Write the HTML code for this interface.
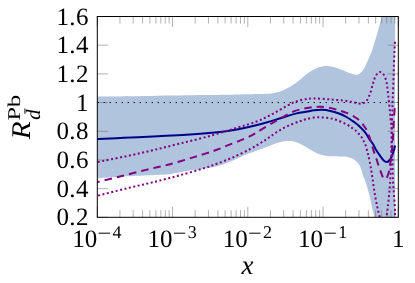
<!DOCTYPE html>
<html><head><meta charset="utf-8"><style>
html,body{margin:0;padding:0;background:#fff}
svg{display:block;will-change:transform;transform:translateZ(0)}
text{text-rendering:geometricPrecision}
.t{font-family:"Liberation Serif",serif;font-size:25px;fill:#000}
.s{font-family:"Liberation Serif",serif;font-size:18px;fill:#000}
.tk{stroke:#707070;stroke-width:0.55;fill:none}
.c{fill:none;stroke-width:2}
</style></head><body>
<svg width="415" height="283" viewBox="0 0 415 283">
<defs><clipPath id="cp"><rect x="97.3" y="16.5" width="301.0" height="200.8"/></clipPath></defs>
<rect width="415" height="283" fill="#fff"/>
<g clip-path="url(#cp)">
<path d="M97.30,96.60 C106.08,96.48 131.88,96.15 150.00,95.90 C168.12,95.65 191.00,95.33 206.00,95.10 C221.00,94.87 229.67,94.72 240.00,94.50 C250.33,94.28 262.22,94.08 268.00,93.80 C273.78,93.52 272.45,93.25 274.70,92.80 C276.95,92.35 279.25,91.95 281.50,91.10 C283.75,90.25 285.95,88.95 288.20,87.70 C290.45,86.45 292.75,85.18 295.00,83.60 C297.25,82.02 299.45,80.00 301.70,78.20 C303.95,76.40 306.25,74.37 308.50,72.80 C310.75,71.23 313.28,69.78 315.20,68.80 C317.12,67.82 318.08,67.38 320.00,66.90 C321.92,66.42 324.45,65.90 326.70,65.90 C328.95,65.90 331.25,66.35 333.50,66.90 C335.75,67.45 337.95,68.37 340.20,69.20 C342.45,70.03 344.75,71.05 347.00,71.90 C349.25,72.75 352.02,73.83 353.70,74.30 C355.38,74.77 355.97,74.93 357.10,74.70 C358.23,74.47 359.37,73.87 360.50,72.90 C361.63,71.93 362.78,70.70 363.90,68.90 C365.02,67.10 366.20,64.35 367.20,62.10 C368.20,59.85 369.17,57.08 369.90,55.40 C370.63,53.72 370.42,55.53 371.60,52.00 C372.78,48.47 375.53,39.18 377.00,34.20 C378.47,29.22 379.62,25.02 380.40,22.10 C381.18,19.18 381.10,19.05 381.70,16.70 C382.30,14.35 383.62,9.45 384.00,8.00 L395.10,5 L395.10,226 L376,226 L376.00,226.00 C375.72,224.50 374.97,220.17 374.30,217.00 C373.63,213.83 372.88,210.92 372.00,207.00 C371.12,203.08 370.18,198.00 369.00,193.50 C367.82,189.00 365.82,182.75 364.90,180.00 C363.98,177.25 364.32,179.33 363.50,177.00 C362.68,174.67 361.03,168.43 360.00,166.00 C358.97,163.57 358.43,163.57 357.30,162.40 C356.17,161.23 354.55,159.83 353.20,159.00 C351.85,158.17 350.77,157.80 349.20,157.40 C347.63,157.00 346.05,156.78 343.80,156.60 C341.55,156.42 338.40,156.42 335.70,156.30 C333.00,156.18 329.85,156.12 327.60,155.90 C325.35,155.68 324.00,155.43 322.20,155.00 C320.40,154.57 318.60,154.08 316.80,153.30 C315.00,152.52 313.20,151.37 311.40,150.30 C309.60,149.23 307.82,147.97 306.00,146.90 C304.18,145.83 302.53,144.80 300.50,143.90 C298.47,143.00 295.82,142.00 293.80,141.50 C291.78,141.00 290.20,140.90 288.40,140.90 C286.60,140.90 285.03,141.10 283.00,141.50 C280.97,141.90 278.45,142.57 276.20,143.30 C273.95,144.03 271.75,145.05 269.50,145.90 C267.25,146.75 266.08,147.17 262.70,148.40 C259.32,149.63 253.25,151.70 249.20,153.30 C245.15,154.90 242.00,156.43 238.40,158.00 C234.80,159.57 231.20,161.33 227.60,162.70 C224.00,164.07 220.40,165.23 216.80,166.20 C213.20,167.17 209.48,167.92 206.00,168.50 C202.52,169.08 199.07,169.28 195.90,169.70 C192.73,170.12 190.98,170.33 187.00,171.00 C183.02,171.67 176.50,173.07 172.00,173.70 C167.50,174.33 164.83,174.48 160.00,174.80 C155.17,175.12 150.33,175.23 143.00,175.60 C135.67,175.97 123.62,176.57 116.00,177.00 C108.38,177.43 100.42,178.00 97.30,178.20 Z" fill="#b0c4de"/>
</g>
<path d="M97.30,217.30v-10.7M97.30,16.50v10.7" class="tk"/><path d="M119.95,217.30v-7.1M119.95,16.50v7.1" class="tk"/><path d="M133.20,217.30v-7.1M133.20,16.50v7.1" class="tk"/><path d="M142.61,217.30v-7.1M142.61,16.50v7.1" class="tk"/><path d="M149.90,217.30v-7.1M149.90,16.50v7.1" class="tk"/><path d="M155.86,217.30v-7.1M155.86,16.50v7.1" class="tk"/><path d="M160.89,217.30v-7.1M160.89,16.50v7.1" class="tk"/><path d="M165.26,217.30v-7.1M165.26,16.50v7.1" class="tk"/><path d="M169.11,217.30v-7.1M169.11,16.50v7.1" class="tk"/><path d="M172.55,217.30v-10.7M172.55,16.50v10.7" class="tk"/><path d="M195.20,217.30v-7.1M195.20,16.50v7.1" class="tk"/><path d="M208.45,217.30v-7.1M208.45,16.50v7.1" class="tk"/><path d="M217.86,217.30v-7.1M217.86,16.50v7.1" class="tk"/><path d="M225.15,217.30v-7.1M225.15,16.50v7.1" class="tk"/><path d="M231.11,217.30v-7.1M231.11,16.50v7.1" class="tk"/><path d="M236.14,217.30v-7.1M236.14,16.50v7.1" class="tk"/><path d="M240.51,217.30v-7.1M240.51,16.50v7.1" class="tk"/><path d="M244.36,217.30v-7.1M244.36,16.50v7.1" class="tk"/><path d="M247.80,217.30v-10.7M247.80,16.50v10.7" class="tk"/><path d="M270.45,217.30v-7.1M270.45,16.50v7.1" class="tk"/><path d="M283.70,217.30v-7.1M283.70,16.50v7.1" class="tk"/><path d="M293.11,217.30v-7.1M293.11,16.50v7.1" class="tk"/><path d="M300.40,217.30v-7.1M300.40,16.50v7.1" class="tk"/><path d="M306.36,217.30v-7.1M306.36,16.50v7.1" class="tk"/><path d="M311.39,217.30v-7.1M311.39,16.50v7.1" class="tk"/><path d="M315.76,217.30v-7.1M315.76,16.50v7.1" class="tk"/><path d="M319.61,217.30v-7.1M319.61,16.50v7.1" class="tk"/><path d="M323.05,217.30v-10.7M323.05,16.50v10.7" class="tk"/><path d="M345.70,217.30v-7.1M345.70,16.50v7.1" class="tk"/><path d="M358.95,217.30v-7.1M358.95,16.50v7.1" class="tk"/><path d="M368.36,217.30v-7.1M368.36,16.50v7.1" class="tk"/><path d="M375.65,217.30v-7.1M375.65,16.50v7.1" class="tk"/><path d="M381.61,217.30v-7.1M381.61,16.50v7.1" class="tk"/><path d="M386.64,217.30v-7.1M386.64,16.50v7.1" class="tk"/><path d="M391.01,217.30v-7.1M391.01,16.50v7.1" class="tk"/><path d="M394.86,217.30v-7.1M394.86,16.50v7.1" class="tk"/><path d="M398.30,217.30v-10.7M398.30,16.50v10.7" class="tk"/><path d="M97.30,16.50h10.7M398.30,16.50h-10.7" class="tk"/><path d="M97.30,45.19h10.7M398.30,45.19h-10.7" class="tk"/><path d="M97.30,73.87h10.7M398.30,73.87h-10.7" class="tk"/><path d="M97.30,102.56h10.7M398.30,102.56h-10.7" class="tk"/><path d="M97.30,131.24h10.7M398.30,131.24h-10.7" class="tk"/><path d="M97.30,159.93h10.7M398.30,159.93h-10.7" class="tk"/><path d="M97.30,188.61h10.7M398.30,188.61h-10.7" class="tk"/><path d="M97.30,217.30h10.7M398.30,217.30h-10.7" class="tk"/>
<g clip-path="url(#cp)">
<path d="M97.3,102.56H398.3" stroke="#000" stroke-width="1" stroke-dasharray="1.3 4.7" stroke-dashoffset="-0.35" fill="none"/>
<path d="M92.00,139.10 C93.05,139.07 92.97,139.12 98.30,138.90 C103.63,138.68 114.88,138.20 124.00,137.80 C133.12,137.40 144.00,136.93 153.00,136.50 C162.00,136.07 169.17,135.73 178.00,135.20 C186.83,134.67 198.00,133.95 206.00,133.30 C214.00,132.65 220.42,132.03 226.00,131.30 C231.58,130.57 235.00,129.78 239.50,128.90 C244.00,128.02 248.50,127.07 253.00,126.00 C257.50,124.93 261.67,123.88 266.50,122.50 C271.33,121.12 277.00,119.22 282.00,117.70 C287.00,116.18 292.50,114.38 296.50,113.40 C300.50,112.42 303.07,112.32 306.00,111.80 C308.93,111.28 311.40,110.63 314.10,110.30 C316.80,109.97 319.50,109.70 322.20,109.80 C324.90,109.90 327.60,110.32 330.30,110.90 C333.00,111.48 335.70,112.28 338.40,113.30 C341.10,114.32 343.80,115.48 346.50,117.00 C349.20,118.52 352.50,120.90 354.60,122.40 C356.70,123.90 357.28,124.27 359.10,126.00 C360.92,127.73 363.77,130.55 365.50,132.80 C367.23,135.05 368.20,137.55 369.50,139.50 C370.80,141.45 372.17,142.70 373.30,144.50 C374.43,146.30 375.05,148.25 376.30,150.30 C377.55,152.35 379.52,155.05 380.80,156.80 C382.08,158.55 383.05,159.93 384.00,160.80 C384.95,161.67 385.67,162.00 386.50,162.00 C387.33,162.00 388.15,161.67 389.00,160.80 C389.85,159.93 390.77,158.60 391.60,156.80 C392.43,155.00 393.42,151.88 394.00,150.00 C394.58,148.12 394.92,146.25 395.10,145.50" class="c" stroke="#00008b"/>
<path d="M92.50,183.20 C93.47,182.98 93.73,183.02 98.30,181.90 C102.87,180.78 112.13,178.47 119.90,176.50 C127.67,174.53 136.73,172.10 144.90,170.10 C153.07,168.10 160.85,166.62 168.90,164.50 C176.95,162.38 187.02,159.25 193.20,157.40 C199.38,155.55 202.07,154.67 206.00,153.40 C209.93,152.13 213.08,151.18 216.80,149.80 C220.52,148.42 224.37,146.67 228.30,145.10 C232.23,143.53 236.58,141.97 240.40,140.40 C244.22,138.83 247.93,137.37 251.20,135.70 C254.47,134.03 256.28,132.63 260.00,130.40 C263.72,128.17 269.45,124.65 273.50,122.30 C277.55,119.95 280.70,118.20 284.30,116.30 C287.90,114.40 291.48,112.25 295.10,110.90 C298.72,109.55 302.83,108.83 306.00,108.20 C309.17,107.57 311.63,107.33 314.10,107.10 C316.57,106.87 318.10,106.67 320.80,106.80 C323.50,106.93 327.37,107.33 330.30,107.90 C333.23,108.47 335.70,109.37 338.40,110.20 C341.10,111.03 343.80,111.77 346.50,112.90 C349.20,114.03 352.35,115.65 354.60,117.00 C356.85,118.35 358.40,119.45 360.00,121.00 C361.60,122.55 363.17,124.92 364.20,126.30 C365.23,127.68 365.47,127.88 366.20,129.30 C366.93,130.72 367.82,132.87 368.60,134.80 C369.38,136.73 370.30,139.03 370.90,140.90 C371.50,142.77 371.65,144.07 372.20,146.00 C372.75,147.93 373.52,150.42 374.20,152.50 C374.88,154.58 375.60,156.42 376.30,158.50 C377.00,160.58 377.70,162.92 378.40,165.00 C379.10,167.08 379.77,169.00 380.50,171.00 C381.23,173.00 382.07,175.67 382.80,177.00 C383.53,178.33 384.20,178.97 384.90,179.00 C385.60,179.03 386.28,178.63 387.00,177.20 C387.72,175.77 388.50,174.02 389.20,170.40 C389.90,166.78 390.63,159.78 391.20,155.50 C391.77,151.22 392.27,148.45 392.60,144.70 C392.93,140.95 393.02,136.62 393.20,133.00 C393.38,129.38 393.48,126.67 393.70,123.00 C393.92,119.33 394.30,113.58 394.50,111.00 C394.70,108.42 394.83,108.08 394.90,107.50" class="c" stroke="#800080" stroke-dasharray="7.5 5.04"/>
<path d="M97.30,162.10 C101.97,161.15 116.23,158.33 125.30,156.40 C134.37,154.47 142.92,152.57 151.70,150.50 C160.48,148.43 168.95,146.25 178.00,144.00 C187.05,141.75 196.57,139.58 206.00,137.00 C215.43,134.42 226.27,131.05 234.60,128.50 C242.93,125.95 249.73,124.08 256.00,121.70 C262.27,119.32 266.80,116.97 272.20,114.20 C277.60,111.43 284.35,107.23 288.40,105.10 C292.45,102.97 293.80,102.35 296.50,101.40 C299.20,100.45 301.67,99.88 304.60,99.40 C307.53,98.92 309.82,98.50 314.10,98.50 C318.38,98.50 324.90,98.98 330.30,99.40 C335.70,99.82 342.45,100.48 346.50,101.00 C350.55,101.52 352.47,102.07 354.60,102.50 C356.73,102.93 357.90,103.48 359.30,103.60 C360.70,103.72 361.80,103.63 363.00,103.20 C364.20,102.77 365.28,102.70 366.50,101.00 C367.72,99.30 369.22,95.92 370.30,93.00 C371.38,90.08 372.10,86.33 373.00,83.50 C373.90,80.67 374.58,77.92 375.70,76.00 C376.82,74.08 378.35,72.20 379.70,72.00 C381.05,71.80 382.67,73.10 383.80,74.80 C384.93,76.50 385.83,79.40 386.50,82.20 C387.17,85.00 387.42,88.52 387.80,91.60 C388.18,94.68 388.47,97.67 388.80,100.70 C389.13,103.73 389.52,106.80 389.80,109.80 C390.08,112.80 390.22,115.75 390.50,118.70 C390.78,121.65 391.22,122.28 391.50,127.50 C391.78,132.72 391.95,141.25 392.20,150.00 C392.45,158.75 392.72,172.75 393.00,180.00 C393.28,187.25 393.58,189.00 393.90,193.50 C394.22,198.00 394.70,203.08 394.90,207.00 C395.10,210.92 395.05,214.00 395.10,217.00 C395.15,220.00 395.18,223.67 395.20,225.00" class="c" stroke="#800080" stroke-dasharray="2 2.5235" stroke-dashoffset="4"/>
<path d="M97.30,195.80 C101.97,194.62 116.27,190.90 125.30,188.70 C134.33,186.50 142.67,184.77 151.50,182.60 C160.33,180.43 169.43,178.13 178.30,175.70 C187.17,173.27 198.28,169.98 204.70,168.00 C211.12,166.02 212.08,165.58 216.80,163.80 C221.52,162.02 227.48,159.73 233.00,157.30 C238.52,154.87 245.18,151.67 249.90,149.20 C254.62,146.73 258.15,144.43 261.30,142.50 C264.45,140.57 266.32,139.27 268.80,137.60 C271.28,135.93 273.62,134.15 276.20,132.50 C278.78,130.85 281.60,129.12 284.30,127.70 C287.00,126.28 289.70,125.12 292.40,124.00 C295.10,122.88 298.23,121.80 300.50,121.00 C302.77,120.20 303.73,119.77 306.00,119.20 C308.27,118.63 311.40,117.90 314.10,117.60 C316.80,117.30 319.50,117.28 322.20,117.40 C324.90,117.52 327.60,117.77 330.30,118.30 C333.00,118.83 335.70,119.58 338.40,120.60 C341.10,121.62 344.25,123.20 346.50,124.40 C348.75,125.60 350.33,126.75 351.90,127.80 C353.47,128.85 354.72,129.67 355.90,130.70 C357.08,131.73 358.02,132.87 359.00,134.00 C359.98,135.13 361.00,136.27 361.80,137.50 C362.60,138.73 363.15,140.07 363.80,141.40 C364.45,142.73 365.18,144.07 365.70,145.50 C366.22,146.93 366.52,148.55 366.90,150.00 C367.28,151.45 367.65,152.83 368.00,154.20 C368.35,155.57 368.55,156.07 369.00,158.20 C369.45,160.33 370.12,163.62 370.70,167.00 C371.28,170.38 371.83,174.08 372.50,178.50 C373.17,182.92 373.90,188.75 374.70,193.50 C375.50,198.25 376.47,203.08 377.30,207.00 C378.13,210.92 379.00,214.17 379.70,217.00 C380.40,219.83 380.95,222.17 381.50,224.00 C382.05,225.83 382.47,228.00 383.00,228.00 C383.53,228.00 384.12,225.83 384.70,224.00 C385.28,222.17 385.98,219.83 386.50,217.00 C387.02,214.17 387.35,210.92 387.80,207.00 C388.25,203.08 388.78,198.00 389.20,193.50 C389.62,189.00 389.95,187.25 390.30,180.00 C390.65,172.75 390.98,160.80 391.30,150.00 C391.62,139.20 391.97,123.30 392.20,115.20 C392.43,107.10 392.52,106.43 392.70,101.40 C392.88,96.37 393.10,90.90 393.30,85.00 C393.50,79.10 393.63,73.00 393.90,66.00 C394.17,59.00 394.70,47.00 394.90,43.00 C395.10,39.00 395.07,42.17 395.10,42.00" class="c" stroke="#800080" stroke-dasharray="2 2.507" stroke-dashoffset="3.6"/>
</g>
<rect x="97.3" y="16.5" width="301.0" height="200.8" fill="none" stroke="#000" stroke-width="1"/>
<text x="88.9" y="24.50" text-anchor="end" class="t" letter-spacing="0.4">1.6</text><text x="88.9" y="53.19" text-anchor="end" class="t" letter-spacing="0.4">1.4</text><text x="88.9" y="81.87" text-anchor="end" class="t" letter-spacing="0.4">1.2</text><text x="88.9" y="110.56" text-anchor="end" class="t" letter-spacing="0.4">1</text><text x="88.9" y="139.24" text-anchor="end" class="t" letter-spacing="0.4">0.8</text><text x="88.9" y="167.93" text-anchor="end" class="t" letter-spacing="0.4">0.6</text><text x="88.9" y="196.61" text-anchor="end" class="t" letter-spacing="0.4">0.4</text><text x="88.9" y="225.30" text-anchor="end" class="t" letter-spacing="0.4">0.2</text>
<text x="72.30" y="247" class="t">10</text><path d="M98.70,233.2h11.3" stroke="#000" stroke-width="1"/><text x="112.50" y="237.6" class="s">4</text><text x="147.55" y="247" class="t">10</text><path d="M173.95,233.2h11.3" stroke="#000" stroke-width="1"/><text x="187.75" y="237.6" class="s">3</text><text x="222.80" y="247" class="t">10</text><path d="M249.20,233.2h11.3" stroke="#000" stroke-width="1"/><text x="263.00" y="237.6" class="s">2</text><text x="298.05" y="247" class="t">10</text><path d="M324.45,233.2h11.3" stroke="#000" stroke-width="1"/><text x="338.25" y="237.6" class="s">1</text><text x="398.30" y="247" text-anchor="middle" class="t">1</text>
<text x="247.4" y="274.2" text-anchor="middle" style="font-family:'Liberation Serif',serif;font-size:27px;font-style:italic">x</text>
<g transform="translate(29.2,139) rotate(-90)">
<text transform="translate(-0.3,0.7) scale(1.08,1)" style="font-family:'Liberation Serif',serif;font-size:27px;font-style:italic">R</text>
<text transform="translate(18.6,-8.8) scale(1.35,1)" x="0" y="0" style="font-family:'Liberation Serif',serif;font-size:18px">Pb</text>
<text x="19.2" y="11" style="font-family:'Liberation Serif',serif;font-size:20.5px;font-style:italic">d</text>
<path d="M25.1,-4.3h5.5" stroke="#000" stroke-width="0.9"/>
</g>
</svg>
</body></html>
